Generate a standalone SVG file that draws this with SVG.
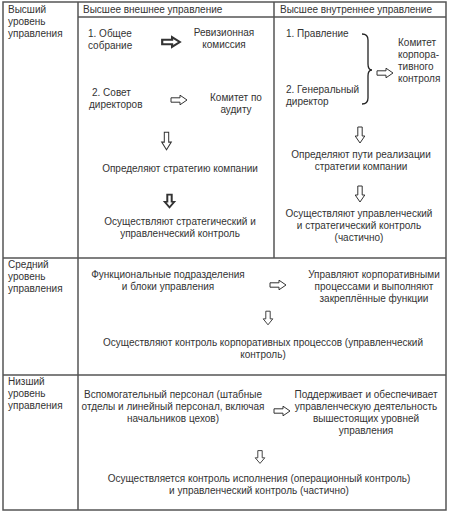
<svg xmlns="http://www.w3.org/2000/svg" width="474" height="520" viewBox="0 0 474 520">
<style>
.t{font-family:"Liberation Sans",Arial,sans-serif;font-size:10px;fill:#333}
.m{text-anchor:middle}
.ln{stroke:#555;stroke-width:1.5;fill:none}
.ar{fill:#fff;stroke:#333;stroke-width:1;stroke-linejoin:miter}
.bd{stroke-width:2}
</style>
<defs>
<path id="ra" d="M-8,-2.2 L1,-2.2 L1,-4.8 L8,0 L1,4.8 L1,2.2 L-8,2.2 Z"/>
</defs>
<rect width="474" height="520" fill="#fff"/>
<g id="table">
<rect class="ln" x="3" y="2" width="443" height="508"/>
<line class="ln" x1="78" y1="2" x2="78" y2="510"/>
<line class="ln" x1="78" y1="17" x2="446" y2="17"/>
<line class="ln" x1="274" y1="2" x2="274" y2="258"/>
<line class="ln" x1="3" y1="258" x2="446" y2="258"/>
<line class="ln" x1="3" y1="375" x2="446" y2="375"/>
</g>
<g id="level-top" class="t"><text x="8" y="13">Высший</text><text x="8" y="25">уровень</text><text x="8" y="37">управления</text></g>
<g id="level-mid" class="t"><text x="8" y="268">Средний</text><text x="8" y="280">уровень</text><text x="8" y="292">управления</text></g>
<g id="level-low" class="t"><text x="8" y="385">Низший</text><text x="8" y="397">уровень</text><text x="8" y="409">управления</text></g>
<g id="head-ext" class="t"><text x="83" y="13">Высшее внешнее управление</text></g>
<g id="head-int" class="t"><text x="280" y="13">Высшее внутреннее управление</text></g>
<g id="n-sobranie" class="t"><text x="88" y="37">1. Общее</text><text x="88" y="49">собрание</text></g>
<g id="n-revizion" class="t m"><text x="224" y="36">Ревизионная</text><text x="224" y="48">комиссия</text></g>
<g id="n-sovet" class="t"><text x="92" y="96">2. Совет</text><text x="89" y="108">директоров</text></g>
<g id="n-audit" class="t m"><text x="236" y="101">Комитет по</text><text x="236" y="113">аудиту</text></g>
<g id="n-strat" class="t m"><text x="180" y="172">Определяют стратегию компании</text></g>
<g id="n-strat-ctrl" class="t m"><text x="180" y="225">Осуществляют стратегический и</text><text x="180" y="237">управленческий контроль</text></g>
<g id="n-pravlenie" class="t"><text x="286" y="37">1. Правление</text></g>
<g id="n-gendir" class="t"><text x="286" y="93">2. Генеральный</text><text x="286" y="105">директор</text></g>
<g id="n-korp" class="t"><text x="398" y="46">Комитет</text><text x="398" y="58">корпора-</text><text x="398" y="70">тивного</text><text x="398" y="82">контроля</text></g>
<g id="n-puti" class="t m"><text x="361" y="158">Определяют пути реализации</text><text x="361" y="170">стратегии компании</text></g>
<g id="n-upr-ctrl" class="t m"><text x="359" y="217">Осуществляют управленческий</text><text x="359" y="229">и стратегический контроль</text><text x="359" y="241">(частично)</text></g>
<g id="n-func" class="t m"><text x="168" y="278">Функциональные подразделения</text><text x="168" y="290">и блоки управления</text></g>
<g id="n-uprkorp" class="t m"><text x="374" y="278">Управляют корпоративными</text><text x="374" y="290">процессами и выполняют</text><text x="374" y="302">закреплённые функции</text></g>
<g id="n-ctrlkorp" class="t m"><text x="263" y="346">Осуществляют контроль корпоративных процессов (управленческий</text><text x="263" y="358">контроль)</text></g>
<g id="n-vspom" class="t m"><text x="173" y="398">Вспомогательный персонал (штабные</text><text x="173" y="410">отделы и линейный персонал, включая</text><text x="173" y="422">начальников цехов)</text></g>
<g id="n-podd" class="t m"><text x="366" y="398">Поддерживает и обеспечивает</text><text x="366" y="410">управленческую деятельность</text><text x="366" y="422">вышестоящих уровней</text><text x="366" y="434">управления</text></g>
<g id="n-ispoln" class="t m"><text x="259" y="482">Осуществляется контроль исполнения (операционный контроль)</text><text x="259" y="494">и управленческий контроль (частично)</text></g>
<g id="connectors">
<use href="#ra" class="ar bd" transform="translate(171,42) scale(1.1,1)"/>
<use href="#ra" class="ar" transform="translate(179,100)"/>
<use href="#ra" class="ar" transform="translate(385,73)"/>
<use href="#ra" class="ar" transform="translate(166.5,141) rotate(90) scale(1.1,1)"/>
<use href="#ra" class="ar bd" transform="translate(169.5,201) rotate(90) scale(0.8,1)"/>
<use href="#ra" class="ar" transform="translate(360,135) rotate(90)"/>
<use href="#ra" class="ar" transform="translate(360,194) rotate(90)"/>
<use href="#ra" class="ar" transform="translate(278,285)"/>
<use href="#ra" class="ar" transform="translate(268,318) rotate(90) scale(0.85,1)"/>
<use href="#ra" class="ar" transform="translate(282,411)"/>
<use href="#ra" class="ar" transform="translate(260,457) rotate(90) scale(0.8,1)"/>
<path class="ln" style="stroke:#222;stroke-width:1.3" d="M362,34 Q368,34 368,40 L368,64 Q368,70 372,70 Q368,70 368,76 L368,98 Q368,104 362,104"/>
</g>
</svg>
